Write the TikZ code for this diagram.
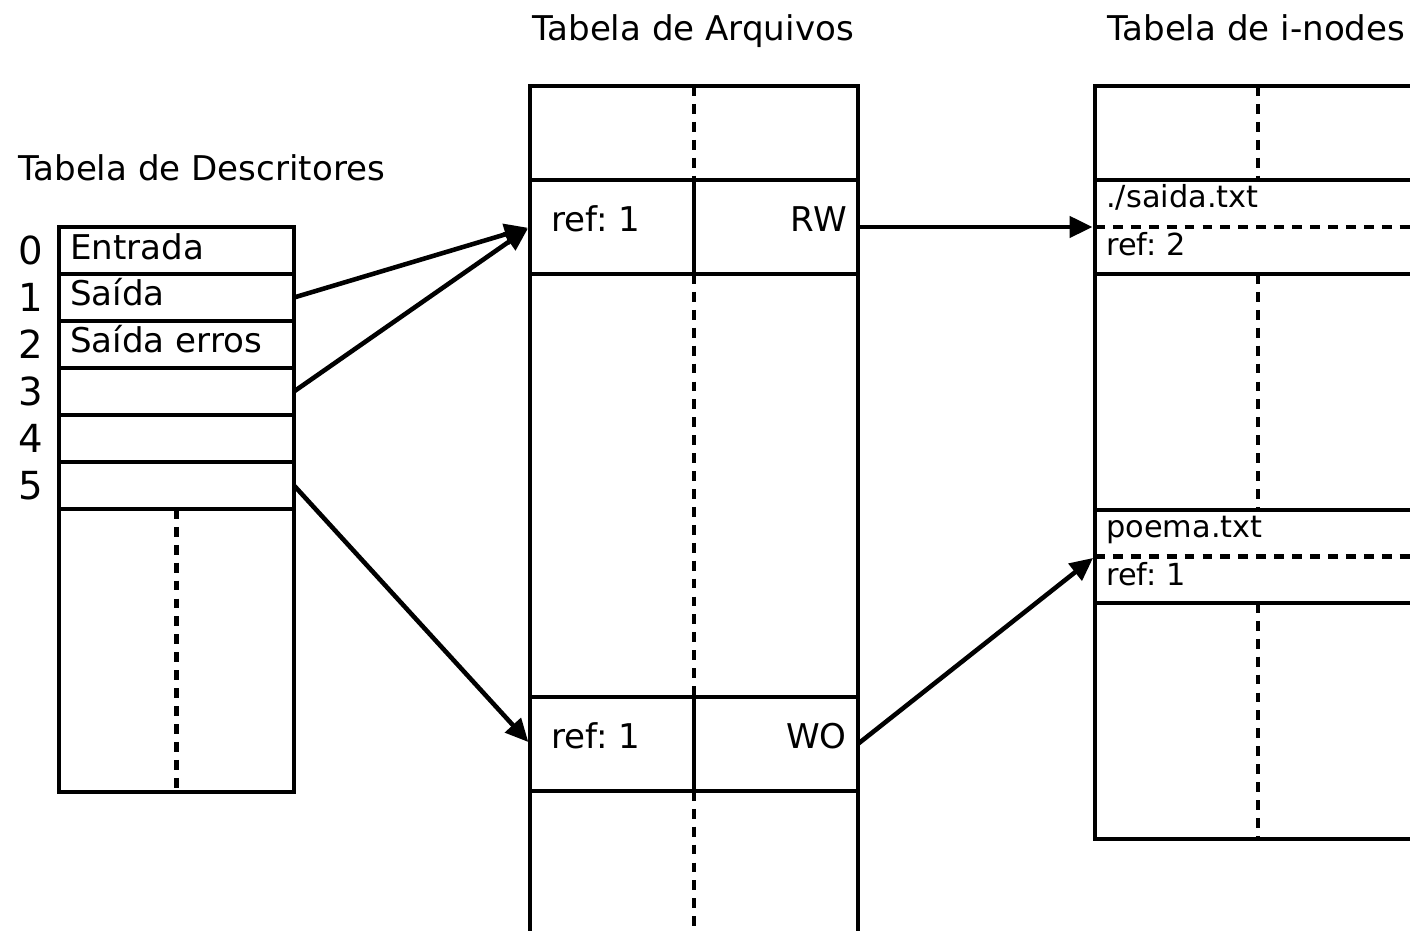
\documentclass[tikz,border=0pt]{standalone}
\usepackage{fontspec}
\setmainfont{DejaVu Sans}
\usetikzlibrary{positioning,arrows.meta}
\tikzstyle{desc cell}=[
    draw,
    rectangle,
    outer sep = 0pt,
    minimum width = 4.7cm,
    minimum height = 0.94cm
]
\tikzstyle{file box}=[
    draw,
    rectangle,
    outer sep = 0pt,
    minimum width = 6.56cm
]
\tikzstyle{ref cell}=[
    draw,
    rectangle,
    outer sep = 0pt,
    minimum width = 3.28cm,
    minimum height = 1.88cm
]
\tikzstyle{inode box}=[
    draw,
    rectangle,
    outer sep = 0pt,
    minimum width = 6.52cm
]
\tikzstyle{cell text}=[anchor = base west, inner sep = 0pt]
\tikzstyle{inode text}=[anchor = base west, inner sep = 0pt, font = \fontsize{17.3}{20}\selectfont]
\tikzstyle{dash line}=[dash pattern = on 5.6pt off 4.6pt]

\begin{document}
\frenchspacing
\begin{tikzpicture}[x=0.02cm, y=-0.02cm, line width=2.6pt, font=\fontsize{19.4}{23}\selectfont,
    num/.style = {inner sep=0pt, font=\fontsize{22}{26}\selectfont},
    title/.style = {anchor=base west, inner sep=0pt},
    link/.style = {-{Triangle[length=0.46cm, width=0.42cm]}, shorten >=0.05cm}]
        \clip (0,0) rectangle (1410,930);

        % titles
        \node[title] (tdesc) at (16,180) {Tabela de Descritores};
        \node[title] (tfile) at (530,40) {Tabela de Arquivos};
        \node[title] (tinode) at (1105,40) {Tabela de i-nodes};

        % descriptors
        \node[desc cell] (d0) at (176.5,250.5) {};
        \node[desc cell, below=0pt of d0] (d1) {};
        \node[desc cell, below=0pt of d1] (d2) {};
        \node[desc cell, below=0pt of d2] (d3) {};
        \node[desc cell, below=0pt of d3] (d4) {};
        \node[desc cell, below=0pt of d4] (d5) {};
        \node[desc cell, below=0pt of d5, minimum height=5.66cm] (d6) {};
        \draw[dash line] (d6.north) -- (d6.south);
        \foreach \i in {0,...,5}
            \node[num, left=0.27cm of d\i] (n\i) {\i};
        \node[cell text] (e0) at ([shift={(9,8.5)}]d0.west) {Entrada};
        \node[cell text] (e1) at ([shift={(9,8.5)}]d1.west) {Saída};
        \node[cell text] (e2) at ([shift={(9,8.5)}]d2.west) {Saída erros};

        % open files
        \node[file box, minimum height=1.88cm] (a0) at (694,133) {};
        \node[ref cell, below right=0pt of a0.south west] (a1l) {};
        \node[ref cell, right=0pt of a1l] (a1r) {};
        \node[file box, minimum height=8.46cm, below right=0pt of a1l.south west] (a2) {};
        \node[ref cell, below right=0pt of a2.south west] (a3l) {};
        \node[ref cell, right=0pt of a3l] (a3r) {};
        \node[file box, minimum height=3.36cm, below right=0pt of a3l.south west] (a4) {};
        \foreach \n in {a0,a2,a4}
            \draw[dash line] (\n.north) -- (\n.south);
        \node[cell text] (k1) at ([shift={(19,5)}]a1l.west) {ref: 1};
        \node[cell text, anchor=base east] (m1) at ([shift={(-9,5)}]a1r.east) {RW};
        \node[cell text] (k3) at ([shift={(19,5)}]a3l.west) {ref: 1};
        \node[cell text, anchor=base east] (m3) at ([shift={(-9,5)}]a3r.east) {WO};

        % i-nodes
        \node[inode box, minimum height=1.88cm] (i0) at (1258,133) {};
        \node[inode box, minimum height=1.88cm, below=0pt of i0] (i1) {};
        \node[inode box, minimum height=4.72cm, below=0pt of i1] (i2) {};
        \node[inode box, minimum height=1.86cm, below=0pt of i2] (i3) {};
        \node[inode box, minimum height=4.72cm, below=0pt of i3] (i4) {};
        \draw[dash line] (i1.west) -- (i1.east);
        \draw[dash line] (i3.west) -- (i3.east);
        \foreach \n in {i0,i2,i4}
            \draw[dash line] (\n.north) -- (\n.south);
        \node[inode text] (f1) at ([shift={(9,28)}]i1.north west) {./saida.txt};
        \node[inode text] (r1) at ([shift={(9,76)}]i1.north west) {ref: 2};
        \node[inode text] (f2) at ([shift={(9,28)}]i3.north west) {poema.txt};
        \node[inode text] (r2) at ([shift={(9,76)}]i3.north west) {ref: 1};

        \draw[link] (d1.east) -- (a1l.west);
        \draw[link] (d3.east) -- (a1l.west);
        \draw[link] (d5.east) -- (a3l.west);
        \draw[link] (a1r.east) -- (i1.west);
        \draw[link] (a3r.east) -- (i3.west);

    \end{tikzpicture}
\end{document}
